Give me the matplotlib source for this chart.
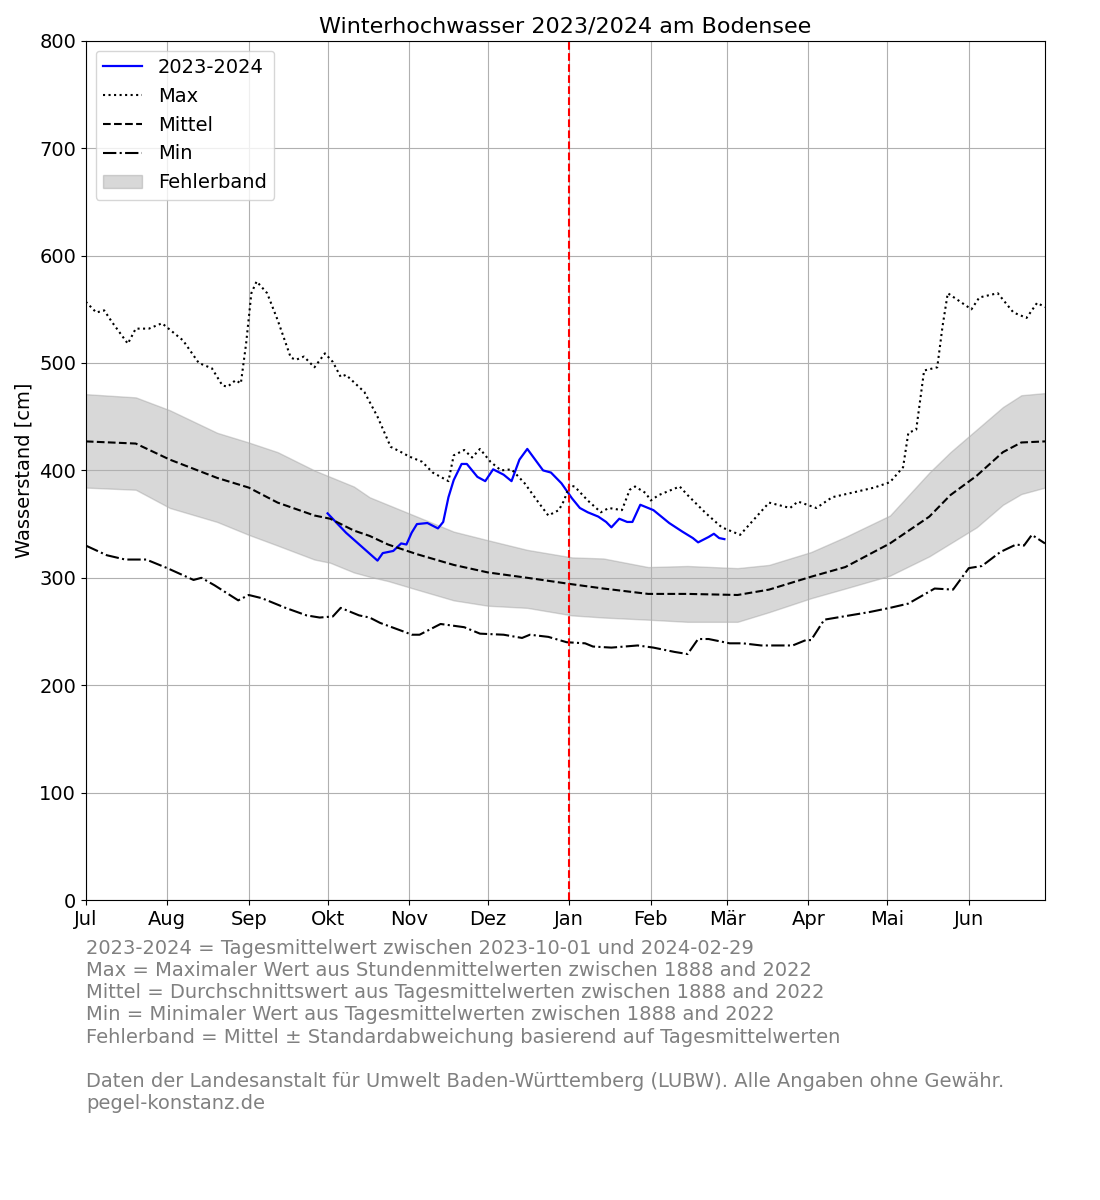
import matplotlib
matplotlib.use("Agg")
import matplotlib.pyplot as plt

# ── Daten (Tag 0 = 1. Juli) ───────────────────────────────────────────────────
MONTH_LABELS = ["Jul", "Aug", "Sep", "Okt", "Nov", "Dez", "Jan", "Feb", "Mär", "Apr", "Mai", "Jun"]
MONTH_DAYS = [0, 31, 62, 92, 123, 153, 184, 215, 244, 275, 305, 336]
TODAY = 184

# 2023-2024 Tagesmittel
cur_days = [92, 99, 105, 111, 113, 117, 120, 122, 124, 126, 130, 134, 136, 138, 140, 143,
            145, 149, 152, 155, 159, 162, 165, 168, 171, 174, 177, 181, 185, 188, 191, 195,
            198, 200, 203, 206, 208, 211, 215, 216, 222, 227, 231, 233, 237, 239, 241, 243]
cur_vals = [360, 342, 329, 316, 323, 325, 332, 331, 342, 350, 351, 346, 352, 375, 391, 406,
            406, 394, 390, 401, 396, 390, 410, 420, 410, 400, 398, 388, 374, 365, 361, 357,
            352, 347, 355, 352, 352, 368, 364, 363, 351, 343, 337, 333, 338, 341, 337, 336]

# Max
max_days = [0, 4, 7, 10, 16, 19, 24, 29, 32, 37, 43, 48, 52, 54, 57, 59, 61, 63, 65, 69,
            73, 78, 80, 83, 87, 91, 94, 97, 99, 106, 111, 116, 120, 123, 128, 132, 138, 140,
            144, 147, 150, 154, 158, 162, 167, 172, 176, 180, 182, 184, 186, 191, 196, 199,
            204, 207, 209, 213, 215, 218, 226, 229, 236, 242, 249, 260, 268, 271, 278, 284,
            293, 300, 306, 311, 313, 316, 319, 324, 326, 328, 337, 340, 347, 353, 358, 362, 365]
max_vals = [557, 547, 549, 538, 518, 532, 532, 537, 531, 521, 500, 495, 479, 478, 484, 481,
            518, 565, 576, 565, 540, 505, 503, 506, 496, 509, 501, 487, 489, 473, 450, 422,
            417, 413, 408, 398, 390, 414, 419, 412, 420, 408, 400, 401, 388, 371, 358, 363,
            372, 386, 385, 372, 361, 365, 363, 382, 385, 379, 372, 377, 385, 377, 360, 347,
            340, 370, 365, 371, 365, 375, 380, 384, 389, 403, 435, 438, 493, 496, 534, 565,
            550, 561, 565, 547, 542, 556, 552]

# Mittel und Fehlerband
band_days = [0, 19, 32, 50, 62, 73, 87, 93, 102, 108, 115, 126, 140, 153, 168, 185, 197, 214,
             229, 248, 260, 276, 289, 306, 321, 329, 339, 349, 356, 365]
mean_vals = [427, 425, 410, 393, 384, 370, 358, 355, 344, 339, 331, 322, 312, 305, 300, 294,
             290, 285, 285, 284, 289, 301, 310, 332, 357, 377, 395, 417, 426, 427]
upper_vals = [471, 468, 456, 435, 426, 417, 400, 394, 385, 375, 368, 357, 343, 335, 326, 319,
              318, 310, 311, 309, 312, 324, 338, 358, 398, 417, 438, 459, 470, 472]
lower_vals = [384, 382, 365, 352, 340, 330, 317, 314, 305, 301, 297, 289, 279, 274, 272, 265,
              263, 261, 259, 259, 268, 281, 290, 302, 320, 332, 347, 368, 378, 384]

# Min
min_days = [0, 8, 15, 23, 31, 41, 44, 49, 58, 62, 67, 76, 84, 89, 94, 97, 104, 108, 112, 122,
            124, 127, 135, 144, 150, 159, 166, 169, 176, 183, 190, 193, 200, 210, 216, 224,
            229, 233, 237, 245, 250, 257, 269, 274, 276, 281, 298, 306, 313, 323, 330, 336,
            341, 348, 354, 357, 360, 365]
min_vals = [330, 321, 317, 317, 309, 298, 300, 293, 279, 284, 281, 272, 265, 263, 264, 272,
            265, 263, 258, 249, 247, 247, 257, 254, 248, 247, 244, 247, 245, 240, 239, 236,
            235, 237, 235, 231, 229, 243, 243, 239, 239, 237, 237, 242, 242, 261, 268, 272,
            276, 290, 289, 309, 311, 324, 331, 330, 340, 332]

FOOTER = ("2023-2024 = Tagesmittelwert zwischen 2023-10-01 und 2024-02-29\n"
          "Max = Maximaler Wert aus Stundenmittelwerten zwischen 1888 and 2022\n"
          "Mittel = Durchschnittswert aus Tagesmittelwerten zwischen 1888 and 2022\n"
          "Min = Minimaler Wert aus Tagesmittelwerten zwischen 1888 and 2022\n"
          "Fehlerband = Mittel ± Standardabweichung basierend auf Tagesmittelwerten\n"
          "\n"
          "Daten der Landesanstalt für Umwelt Baden-Württemberg (LUBW). Alle Angaben ohne Gewähr.\n"
          "pegel-konstanz.de")

plt.rcParams["font.size"] = 14

fig = plt.figure(figsize=(11, 12), dpi=100)
ax = fig.add_axes([0.078, 0.25, 0.872, 0.716])

ax.plot(cur_days, cur_vals, color="blue", lw=1.6, label="2023-2024")
ax.plot(max_days, max_vals, "k:", lw=1.5, label="Max")
ax.plot(band_days, mean_vals, "k--", lw=1.5, label="Mittel")
ax.plot(min_days, min_vals, "k-.", lw=1.5, label="Min")
ax.fill_between(band_days, lower_vals, upper_vals, color="gray", alpha=0.3, label="Fehlerband")
ax.axvline(TODAY, color="red", ls="--", lw=1.5)

ax.set_xlim(0, 365)
ax.set_ylim(0, 800)
ax.set_xticks(MONTH_DAYS)
ax.set_xticklabels(MONTH_LABELS)
ax.set_ylabel("Wasserstand [cm]")
ax.set_title("Winterhochwasser 2023/2024 am Bodensee", fontsize=16)
ax.grid(True)
ax.legend(loc="upper left")

fig.text(0.078, 0.2175, FOOTER, color="gray", fontsize=14, va="top", linespacing=1.21)

fig.savefig("out.png", dpi=100)
plt.close()
